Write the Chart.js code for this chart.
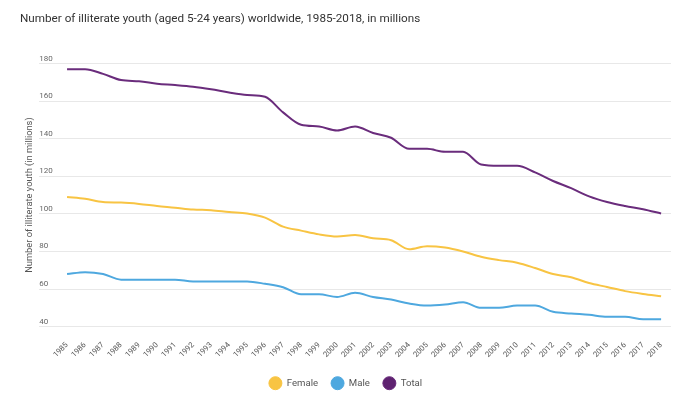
<!DOCTYPE html>
<html>
<head>
<meta charset="utf-8">
<script src="https://cdn.jsdelivr.net/npm/chart.js@4"></script>
<style>
  html, body { margin: 0; padding: 0; background: #fff; }
  #wrap { width: 696px; height: 398px; }
</style>
</head>
<body>
<div id="wrap"><canvas id="youthChart"></canvas></div>
<script>
// Годы и значения (млн)
const years = [1985, 1986, 1987, 1988, 1989, 1990, 1991, 1992, 1993, 1994, 1995, 1996,
    1997, 1998, 1999, 2000, 2001, 2002, 2003, 2004, 2005, 2006, 2007, 2008, 2009,
    2010, 2011, 2012, 2013, 2014, 2015, 2016, 2017, 2018];
const female = [109, 108, 106.3, 106, 105.3, 104.2, 103.3, 102.3, 102, 101, 100.2, 98,
    93.2, 91.1, 89.1, 88, 88.8, 87, 86, 81.2, 82.8, 82.1, 80, 77.2, 75.4,
    74, 71.2, 68, 66.3, 63.2, 61.1, 58.9, 57.4, 56.2];
const male = [68, 69, 68, 65, 65, 65, 65, 64, 64, 64, 64, 62.8,
    61, 57.2, 57.2, 55.8, 58, 55.8, 54.4, 52.3, 51.2, 51.8, 53, 50, 50,
    51.2, 51.2, 47.9, 47, 46.3, 45.3, 45.3, 43.9, 43.9];
const total = [177, 177, 174.5, 171.2, 170.6, 169.3, 168.6, 167.7, 166.3, 164.6, 163.3, 162.3,
    154, 147.4, 146.5, 144.4, 146.5, 143, 140.5, 134.6, 134.6, 133, 133, 126.3, 125.6,
    125.6, 122.1, 117.5, 113.7, 109.3, 106.3, 104.2, 102.5, 100.2];
const yTicks = [40, 60, 80, 100, 120, 140, 160, 180];

const toPoints = arr => arr.map((v, i) => ({ x: years[i], y: v }));

document.addEventListener('DOMContentLoaded', () => {
    const ctx = document.getElementById('youthChart').getContext('2d');
    Chart.defaults.font.family = 'Roboto, "Noto Sans", sans-serif';
    new Chart(ctx, {
        type: 'line',
        data: {
            datasets: [
                {
                    label: 'Female',
                    data: toPoints(female),
                    borderColor: '#f8c443',
                    backgroundColor: '#f8c443'
                },
                {
                    label: 'Male',
                    data: toPoints(male),
                    borderColor: '#4ea8df',
                    backgroundColor: '#4ea8df'
                },
                {
                    label: 'Total',
                    data: toPoints(total),
                    borderColor: '#6a2c7c',
                    backgroundColor: '#5e2270'
                }
            ]
        },
        options: {
            responsive: true,
            maintainAspectRatio: false,
            animation: false,
            elements: {
                line: { borderWidth: 2, cubicInterpolationMode: 'monotone', fill: false },
                point: { radius: 0, hoverRadius: 0 }
            },
            layout: { padding: { left: 20, right: 25, bottom: 0 } },
            plugins: {
                title: {
                    display: true,
                    text: 'Number of illiterate youth (aged 5-24 years) worldwide, 1985-2018, in millions',
                    align: 'start',
                    color: '#333',
                    font: { size: 11.7, weight: 'normal' },
                    padding: { top: 12, bottom: 37.5 }
                },
                legend: {
                    position: 'bottom',
                    labels: {
                        usePointStyle: true,
                        pointStyle: 'circle',
                        boxHeight: 9.2,
                        pointStyleWidth: 13,
                        color: '#555',
                        font: { size: 9.6 },
                        padding: 13
                    }
                },
                tooltip: { enabled: false }
            },
            scales: {
                x: {
                    type: 'linear',
                    min: 1983.45,
                    max: 2018.55,
                    afterBuildTicks: scale => {
                        scale.ticks = years.map(v => ({ value: v }));
                    },
                    grid: { display: false },
                    border: { display: false },
                    ticks: {
                        autoSkip: false,
                        minRotation: 45,
                        maxRotation: 45,
                        color: '#555',
                        font: { size: 7.7 },
                        padding: 6,
                        callback: v => String(v)
                    }
                },
                y: {
                    min: 40,
                    max: 180,
                    afterBuildTicks: scale => {
                        scale.ticks = yTicks.map(v => ({ value: v }));
                    },
                    grid: { color: '#e8e8e8', drawTicks: false, lineWidth: 1 },
                    border: { display: false },
                    ticks: {
                        mirror: true,
                        padding: 0,
                        labelOffset: -5,
                        color: '#666',
                        font: { size: 8 }
                    },
                    title: {
                        display: true,
                        text: 'Number of illiterate youth (in millions)',
                        color: '#555',
                        font: { size: 9.3 },
                        padding: { top: 4, bottom: 4 }
                    }
                }
            }
        }
    });
});
</script>
</body>
</html>
